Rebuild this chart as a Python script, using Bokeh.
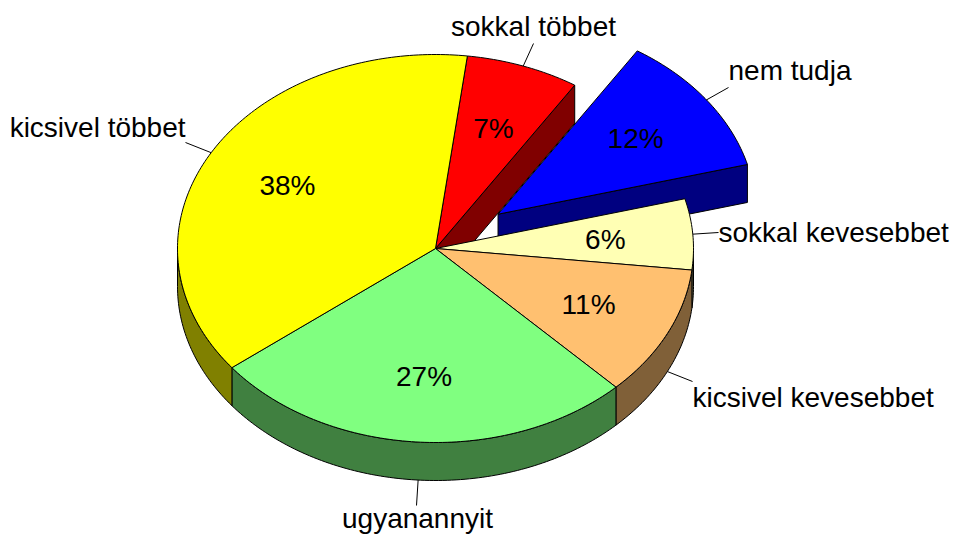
import numpy as np
from bokeh.plotting import figure
from bokeh.models import Range1d, ColumnDataSource
from bokeh.core.properties import value
from bokeh.embed import file_html
from bokeh.resources import INLINE

# ---------------- data ----------------
categories = ["sokkal többet", "nem tudja", "sokkal kevesebbet",
              "kicsivel kevesebbet", "ugyanannyit", "kicsivel többet"]
shares = [7.1, 11.8, 5.9, 10.9, 26.8, 37.5]
pct_labels = [f"{round(v)}%" for v in shares]

# ---------------- styles / layout ----------------
top_colors = ["#FF0000", "#0000FF", "#FFFFB4", "#FFC070", "#80FF80", "#FFFF00"]
side_colors = ["#800000", "#000080", "#80805A", "#806038", "#408040", "#808000"]
exploded_category = "nem tudja"

CX, CY = 435.0, 248.0      # centre of top ellipse (screen px)
RX, RY = 258.0, 194.0      # ellipse radii
DEPTH = 38.0               # thickness of the disc
START = 82.9               # angle of first boundary (deg, counter-clockwise from 3 o'clock)
EXPLODE = 0.30             # explosion distance as fraction of radius
LABEL_FRAC = 0.66          # radial position of percentage labels
FONT = value("Liberation Sans")
FSIZE = "28px"
W, H = 954, 536

# outer label anchors (x, middle y, align) and leader end points
label_pos = [(533, 26, "center"), (728, 70, "left"), (718, 232, "left"),
             (692, 397, "left"), (417, 518, "center"), (185, 127, "right")]
leader_end = [(533, 43), (728, 87), (718, 232), (692, 381), (416, 505), (185, 142)]


def rim(t_deg, ox=0.0, oy=0.0, dz=0.0):
    t = np.radians(t_deg)
    return CX + ox + RX * np.cos(t), CY + oy - RY * np.sin(t) + dz


def arc(t_from, t_to, ox, oy, dz=0.0):
    n = max(int(abs(t_to - t_from) / 1.0) + 2, 3)
    ts = np.linspace(t_from, t_to, n)
    x, y = rim(ts, ox, oy, dz)
    return list(x), list(y)


# slice angle ranges (clockwise from START)
bounds = [START]
for v in shares:
    bounds.append(bounds[-1] - v / sum(shares) * 360.0)

slices = []
for i, cat in enumerate(categories):
    t2, t1 = bounds[i], bounds[i + 1]
    mid = (t1 + t2) / 2
    exp = cat == exploded_category
    if exp:
        ox = EXPLODE * RX * np.cos(np.radians(mid))
        oy = -EXPLODE * RY * np.sin(np.radians(mid))
    else:
        ox = oy = 0.0
    slices.append(dict(t1=t1, t2=t2, mid=mid, ox=ox, oy=oy, exp=exp))

exp_idx = [i for i, s in enumerate(slices) if s["exp"]]


def top_poly(s):
    ax, ay = arc(s["t2"], s["t1"], s["ox"], s["oy"])
    return [CX + s["ox"]] + ax, [CY + s["oy"]] + ay


def wall_polys(s):
    out = []
    for k in range(-2, 2):
        lo = max(s["t1"], 180 + 360 * k)
        hi = min(s["t2"], 360 + 360 * k)
        if hi > lo:
            ax, ay = arc(lo, hi, s["ox"], s["oy"])
            bx, by = arc(hi, lo, s["ox"], s["oy"], DEPTH)
            out.append((ax + bx, ay + by))
    return out


def face_poly(s, t):
    cx, cy = CX + s["ox"], CY + s["oy"]
    rx_, ry_ = rim(t, s["ox"], s["oy"])
    return [cx, float(rx_), float(rx_), cx], [cy, float(ry_), float(ry_) + DEPTH, cy + DEPTH]


def faces(i):
    s = slices[i]
    n = len(slices)
    res = []
    need_low = s["exp"] or slices[(i + 1) % n]["exp"]
    need_high = s["exp"] or slices[(i - 1) % n]["exp"]
    if need_low and np.cos(np.radians(s["t1"])) > 0:
        res.append(face_poly(s, s["t1"]))
    if need_high and np.cos(np.radians(s["t2"])) < 0:
        res.append(face_poly(s, s["t2"]))
    return res


layers = []  # list of (xs, ys, color)
# 1. exploded slices (they sit behind)
for i in exp_idx:
    for w in wall_polys(slices[i]):
        layers.append((w[0], w[1], side_colors[i]))
    for f in faces(i):
        layers.append((f[0], f[1], side_colors[i]))
    tx, ty = top_poly(slices[i])
    layers.append((tx, ty, top_colors[i]))
rest = [i for i in range(len(slices)) if i not in exp_idx]
# 2. radial faces beside the gap
for i in rest:
    for f in faces(i):
        layers.append((f[0], f[1], side_colors[i]))
# 3. outer walls
for i in rest:
    for w in wall_polys(slices[i]):
        layers.append((w[0], w[1], side_colors[i]))
# 4. tops
for i in rest:
    tx, ty = top_poly(slices[i])
    layers.append((tx, ty, top_colors[i]))

p = figure(width=W, height=H, x_range=Range1d(0, W), y_range=Range1d(H, 0),
           output_backend="svg", toolbar_location=None, min_border=0,
           x_axis_location=None, y_axis_location=None)
p.grid.visible = False
p.outline_line_color = None
p.background_fill_color = "white"
p.border_fill_color = "white"

src = ColumnDataSource(dict(xs=[l[0] for l in layers], ys=[l[1] for l in layers],
                            color=[l[2] for l in layers]))
p.patches("xs", "ys", source=src, fill_color="color", line_color="black", line_width=1)

# percentage labels
px, py = [], []
for s in slices:
    x, y = rim(s["mid"], s["ox"], s["oy"])
    x = CX + s["ox"] + (x - CX - s["ox"]) * LABEL_FRAC
    y = CY + s["oy"] + (y - CY - s["oy"]) * LABEL_FRAC
    px.append(float(x))
    py.append(float(y))
p.text(x=px, y=py, text=pct_labels, text_align="center", text_baseline="middle",
       text_font=FONT, text_font_size=FSIZE, text_color="black")

# leader lines
x0, y0, x1, y1 = [], [], [], []
for s, end in zip(slices, leader_end):
    dz = DEPTH if np.sin(np.radians(s["mid"])) < 0 else 0.0
    x, y = rim(s["mid"], s["ox"], s["oy"], dz)
    x0.append(float(x)); y0.append(float(y)); x1.append(end[0]); y1.append(end[1])
p.segment(x0=x0, y0=y0, x1=x1, y1=y1, line_color="black", line_width=1)

# category labels
for align in ("left", "center", "right"):
    idx = [i for i, lp in enumerate(label_pos) if lp[2] == align]
    if not idx:
        continue
    p.text(x=[label_pos[i][0] for i in idx], y=[label_pos[i][1] for i in idx],
           text=[categories[i] for i in idx], text_align=align, text_baseline="middle",
           text_font=FONT, text_font_size=FSIZE, text_color="black")

open("out.html", "w").write(file_html(p, INLINE))
